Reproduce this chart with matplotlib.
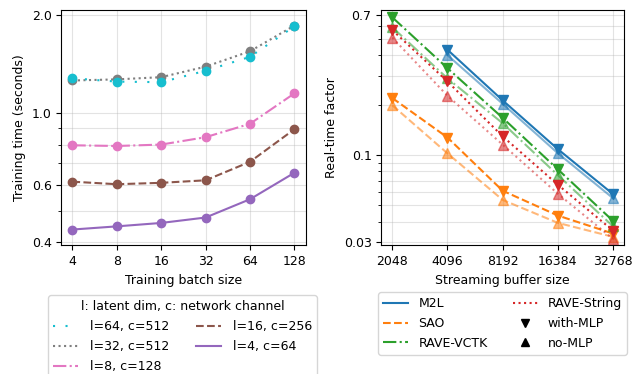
import matplotlib
matplotlib.use("Agg")
import matplotlib.pyplot as plt
from matplotlib.lines import Line2D
from matplotlib.ticker import NullFormatter, FixedLocator

plt.rcParams['font.family'] = ['DejaVu Sans']
plt.rcParams['font.size'] = 9

# ---- Left chart data ----
batch_sizes = [4, 8, 16, 32, 64, 128]
left_labels = ["l=64, c=512", "l=32, c=512", "l=8, c=128", "l=16, c=256", "l=4, c=64"]
t_l64 = [1.28, 1.25, 1.245, 1.35, 1.49, 1.85]
t_l32 = [1.26, 1.27, 1.29, 1.39, 1.55, 1.86]
t_l8 = [0.796, 0.792, 0.80, 0.843, 0.927, 1.15]
t_l16 = [0.615, 0.604, 0.61, 0.621, 0.708, 0.892]
t_l4 = [0.438, 0.448, 0.459, 0.477, 0.543, 0.655]
left_series = [t_l64, t_l32, t_l8, t_l16, t_l4]
left_colors = ["tab:cyan", "tab:gray", "tab:pink", "tab:brown", "tab:purple"]
left_styles = [(0, (1, 5)), ":", "-.", "--", "-"]
left_z = [4, 3, 3, 3, 3]
left_yticks = [0.4, 0.6, 1.0, 2.0]
left_yticklabels = ["0.4", "0.6", "1.0", "2.0"]

# ---- Right chart data ----
buffer_sizes = [2048, 4096, 8192, 16384, 32768]
right_labels = ["M2L", "SAO", "RAVE-VCTK", "RAVE-String"]
m2l_with = [None, 0.431, 0.214, 0.109, 0.0585]
m2l_no = [None, 0.400, 0.204, 0.103, 0.0553]
sao_with = [0.221, 0.128, 0.0613, 0.0435, 0.0339]
sao_no = [0.200, 0.1028, 0.054, 0.0393, 0.0324]
vctk_with = [0.675, 0.334, 0.168, 0.0824, 0.0404]
vctk_no = [0.588, 0.290, 0.156, 0.0761, 0.0375]
string_with = [0.566, 0.278, 0.130, 0.0666, 0.0353]
string_no = [0.510, 0.228, 0.116, 0.0588, 0.0315]
right_with = [m2l_with, sao_with, vctk_with, string_with]
right_no = [m2l_no, sao_no, vctk_no, string_no]
right_colors = ["tab:blue", "tab:orange", "tab:green", "tab:red"]
right_styles = ["-", "--", "-.", ":"]
right_yticks = [0.03, 0.1, 0.7]
right_yticklabels = ["0.03", "0.1", "0.7"]

fig = plt.figure(figsize=(6.44, 3.74), dpi=100)
ax1 = fig.add_axes([0.0952, 0.344, 0.3792, 0.6293])
ax2 = fig.add_axes([0.592, 0.344, 0.377, 0.6293])

# Left
for ys, c, ls, z in zip(left_series, left_colors, left_styles, left_z):
    ax1.plot(batch_sizes, ys, color=c, linestyle=ls, marker='o', markersize=6,
             linewidth=1.5, zorder=z)
ax1.set_xscale('log', base=2)
ax1.set_yscale('log')
ax1.set_xticks(batch_sizes)
ax1.set_xticklabels([str(b) for b in batch_sizes])
ax1.xaxis.set_minor_locator(FixedLocator([]))
ax1.set_ylim(0.3916, 2.077)
ax1.yaxis.set_major_locator(FixedLocator(left_yticks))
ax1.set_yticklabels(left_yticklabels)
ax1.yaxis.set_minor_locator(FixedLocator([0.5, 0.7, 0.8, 0.9]))
ax1.yaxis.set_minor_formatter(NullFormatter())
ax1.grid(True, which='both', color='#b0b0b0', alpha=0.35, linewidth=0.8)
ax1.set_xlabel("Training batch size")
ax1.set_ylabel("Training time (seconds)")

lh = [Line2D([], [], color=c, linestyle=ls, linewidth=1.5)
      for c, ls in zip(left_colors, left_styles)]
ax1.legend(lh, left_labels, title="l: latent dim, c: network channel",
           ncol=2, loc='upper center', bbox_to_anchor=(0.497, -0.2125),
           fontsize=9, title_fontsize=9, borderaxespad=0.0,
           columnspacing=2.2, handletextpad=0.9, labelspacing=0.55)

# Right
for yw, yn, c, ls in zip(right_with, right_no, right_colors, right_styles):
    xw = [x for x, v in zip(buffer_sizes, yw) if v is not None]
    vw = [v for v in yw if v is not None]
    xn = [x for x, v in zip(buffer_sizes, yn) if v is not None]
    vn = [v for v in yn if v is not None]
    ax2.plot(xn, vn, color=c, linestyle=ls, marker='^', markersize=7,
             linewidth=1.5, alpha=0.55)
    ax2.plot(xw, vw, color=c, linestyle=ls, marker='v', markersize=7,
             linewidth=1.5)
ax2.set_xscale('log', base=2)
ax2.set_yscale('log')
ax2.set_xticks(buffer_sizes)
ax2.set_xticklabels([str(b) for b in buffer_sizes])
ax2.xaxis.set_minor_locator(FixedLocator([]))
ax2.set_ylim(0.0288, 0.747)
ax2.yaxis.set_major_locator(FixedLocator(right_yticks))
ax2.set_yticklabels(right_yticklabels)
ax2.yaxis.set_minor_locator(FixedLocator([0.04, 0.05, 0.06, 0.07, 0.08, 0.09,
                                          0.2, 0.3, 0.4, 0.5, 0.6]))
ax2.yaxis.set_minor_formatter(NullFormatter())
ax2.grid(True, which='both', color='#b0b0b0', alpha=0.35, linewidth=0.8)
ax2.set_xlabel("Streaming buffer size")
ax2.set_ylabel("Real-time factor")

rh = [Line2D([], [], color=c, linestyle=ls, linewidth=1.5)
      for c, ls in zip(right_colors, right_styles)]
rh.append(Line2D([], [], color='black', linestyle='none', marker='v', markersize=6))
rh.append(Line2D([], [], color='black', linestyle='none', marker='^', markersize=6))
rl = right_labels + ["with-MLP", "no-MLP"]
ax2.legend(rh, rl, ncol=2, loc='upper center', bbox_to_anchor=(0.5, -0.1985),
           fontsize=9, borderaxespad=0.0, columnspacing=2.0, handletextpad=0.8,
           labelspacing=0.55)

fig.savefig("out.png", dpi=100)
